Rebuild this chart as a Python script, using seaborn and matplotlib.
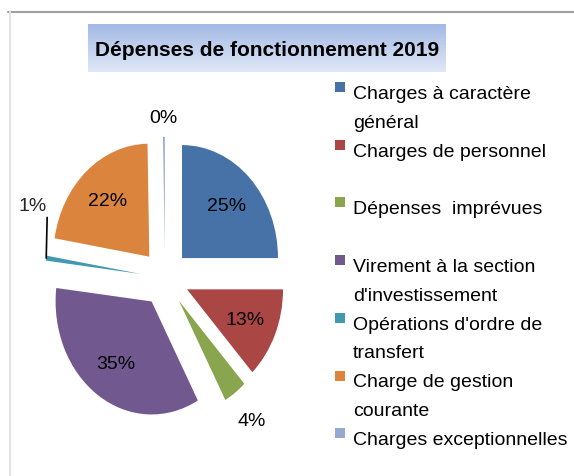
import matplotlib
matplotlib.use("Agg")
import matplotlib.pyplot as plt
import numpy as np
import seaborn as sns
from matplotlib.lines import Line2D
from matplotlib.patches import Rectangle

# categories (legend text, wrapped as in the original chart)
categories = [
    "Charges à caractère\ngénéral",
    "Charges de personnel",
    "Dépenses  imprévues",
    "Virement à la section\nd'investissement",
    "Opérations d'ordre de\ntransfert",
    "Charge de gestion\ncourante",
    "Charges exceptionnelles",
]
# share of total spending, % (labels are rounded)
shares = [25.0, 13.1, 3.9, 34.9, 0.7, 22.1, 0.3]
slice_colors = ["#4672a8", "#aa4644", "#89a54e", "#71588f", "#4198af", "#db843d", "#93a9cf"]
title = "Dépenses de fonctionnement 2019"

sns.set_theme(style="white")
plt.rcParams["font.family"] = ["Liberation Sans", "DejaVu Sans"]
palette = sns.color_palette(slice_colors)

fig = plt.figure(figsize=(5.74, 4.77), dpi=100)

# chart-area border (top and left edges only visible)
fig.add_artist(Line2D([8 / 574, 1], [1 - 13 / 477] * 2, color="#a0a0a0", lw=1.5))
fig.add_artist(Line2D([10 / 574] * 2, [0, 1 - 13 / 477], color="#e4e4e4", lw=1.5))

# title with gradient box
tax = fig.add_axes([88 / 574, 1 - 73 / 477, 358 / 574, 48 / 477])
grad = np.linspace(0, 1, 64).reshape(-1, 1)
top = np.array([163, 186, 229]) / 255
bot = np.array([224, 231, 246]) / 255
tax.imshow(top + grad[..., None] * (bot - top), aspect="auto", extent=(0, 1, 0, 1))
tax.set_axis_off()
tax.text(0.5, 0.47, title, ha="center", va="center", fontsize=15, fontweight="bold",
         color="black", transform=tax.transAxes)

# pie
ax = fig.add_axes([0.0199, 0.036, 0.5352, 0.758])
wedges, texts, autotexts = ax.pie(
    shares, colors=palette, startangle=90, counterclock=False,
    explode=[0.25] * len(shares), autopct="%.0f%%", pctdistance=0.66,
    textprops=dict(fontsize=14, color="black"), wedgeprops=dict(linewidth=0),
)
ax.set_aspect("auto")
ax.set_xlim(-1.6, 1.6)
ax.set_ylim(-1.6, 1.6)


def mid_point(w, r):
    a = np.deg2rad((w.theta1 + w.theta2) / 2)
    return w.center[0] + r * np.cos(a), w.center[1] + r * np.sin(a)


# small slices: labels outside
autotexts[2].set_position(mid_point(wedges[2], 1.3))
autotexts[6].set_position(mid_point(wedges[6], 1.17))
autotexts[4].set_visible(False)
ax.annotate(autotexts[4].get_text(), xy=mid_point(wedges[4], 1.0), xytext=(1, 44),
            textcoords="offset pixels", ha="right", va="bottom", fontsize=14,
            arrowprops=dict(arrowstyle="-", color="black", lw=1.2, relpos=(1, 0),
                            shrinkA=0, shrinkB=0))

# legend, one fixed slot per entry
for i, (lab, col) in enumerate(zip(categories, palette)):
    base = 100 + 57.7 * i
    fig.add_artist(Rectangle((335 / 574, 1 - (base - 7) / 477), 10 / 574, 10 / 477,
                             color=col, lw=0))
    fig.text(353 / 574, 1 - (base - 14) / 477, lab, ha="left", va="top", fontsize=14,
             linespacing=1.9, color="black")

fig.savefig("out.png", dpi=100)
